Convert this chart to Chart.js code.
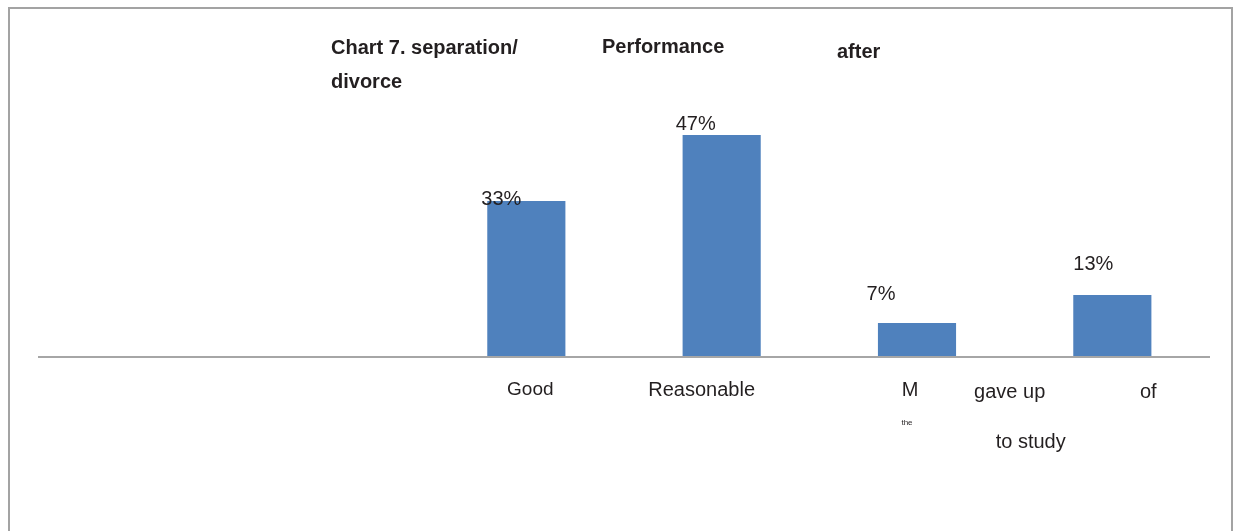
<!DOCTYPE html>
<html lang="en">
<head>
    <meta charset="UTF-8">
    <title>Chart 7</title>
    <script src="https://cdn.jsdelivr.net/npm/chart.js@4.4.0/dist/chart.umd.min.js"></script>
    <style>
        html, body { margin: 0; padding: 0; background: #fff; }
        #board { width: 1239px; height: 531px; position: relative; }
    </style>
</head>
<body>
    <div id="board">
        <canvas id="chart1"></canvas>
    </div>
<script>
    // categories (first two slots are empty in the source layout)
    const categories = ['', '', 'Good', 'Reasonable', 'M the', 'gave up to study of'];
    const values = [null, null, 33, 47, 7, 13];
    const yMax = 50;

    const textColor = '#231f20';
    const barColor = '#4f81bd';
    const font = '"Liberation Sans", Arial, sans-serif';

    // loose text pieces of the title and axis labels (category index + nudge)
    const titleBits = [
        { text: 'Chart 7. separation/', x: 331, y: 48 },
        { text: 'divorce', x: 331, y: 82 },
        { text: 'Performance', x: 602, y: 47 },
        { text: 'after', x: 837, y: 52 }
    ];
    const axisBits = [
        { text: 'Good', i: 2, dx: 4, y: 390, size: 19 },
        { text: 'Reasonable', i: 3, dx: -20, y: 390, size: 20 },
        { text: 'M', i: 4, dx: -7, y: 390, size: 20 },
        { text: 'the', i: 4, dx: -10, y: 423, size: 8 },
        { text: 'gave up', i: 4.5, dx: -5, y: 392, size: 20 },
        { text: 'to study', i: 4.5, dx: 16, y: 442, size: 20 },
        { text: 'of', i: 5, dx: 36, y: 392, size: 20 }
    ];
    // value labels sit a little left of / above each bar top
    const labelNudge = [null, null, [-25, -1], [-26, -11], [-36, -29], [-19, -30]];

    const decor = {
        id: 'decor',
        beforeDraw(chart) {
            const c = chart.ctx;
            c.save();
            c.fillStyle = '#fff';
            c.fillRect(0, 0, chart.width, chart.height);
            // outer frame
            c.strokeStyle = '#a3a3a3';
            c.lineWidth = 2;
            c.strokeRect(9, 8, 1223, 600);
            c.restore();
        },
        afterDatasetsDraw(chart) {
            const c = chart.ctx;
            const x = chart.scales.x, y = chart.scales.y;
            const y0 = y.getPixelForValue(0);
            c.save();
            // base line
            c.strokeStyle = '#a6a6a6';
            c.lineWidth = 2;
            c.beginPath();
            c.moveTo(chart.chartArea.left, y0 + 1);
            c.lineTo(chart.chartArea.right, y0 + 1);
            c.stroke();

            c.fillStyle = textColor;
            c.textBaseline = 'middle';

            // title pieces
            c.font = 'bold 20px ' + font;
            c.textAlign = 'left';
            titleBits.forEach(t => c.fillText(t.text, t.x, t.y));

            // category text pieces
            c.textAlign = 'center';
            const step = x.getPixelForValue(1) - x.getPixelForValue(0);
            axisBits.forEach(t => {
                c.font = t.size + 'px ' + font;
                const px = x.getPixelForValue(0) + step * t.i + t.dx;
                c.fillText(t.text, px, t.y);
            });

            // value labels
            c.font = '20px ' + font;
            const meta = chart.getDatasetMeta(0);
            meta.data.forEach((bar, i) => {
                if (values[i] == null) return;
                const n = labelNudge[i];
                c.fillText(values[i] + '%', bar.x + n[0], bar.y + n[1]);
            });
            c.restore();
        }
    };

    new Chart(document.getElementById('chart1'), {
        type: 'bar',
        data: {
            labels: categories,
            datasets: [{
                data: values,
                backgroundColor: barColor,
                barPercentage: 0.4,
                categoryPercentage: 1.0
            }]
        },
        options: {
            responsive: true,
            maintainAspectRatio: false,
            animation: false,
            layout: { padding: { left: 38, right: 29, top: 121, bottom: 175 } },
            plugins: {
                legend: { display: false },
                tooltip: { enabled: false }
            },
            scales: {
                x: { display: false },
                y: { display: false, min: 0, max: yMax }
            }
        },
        plugins: [decor]
    });
</script>
</body>
</html>
